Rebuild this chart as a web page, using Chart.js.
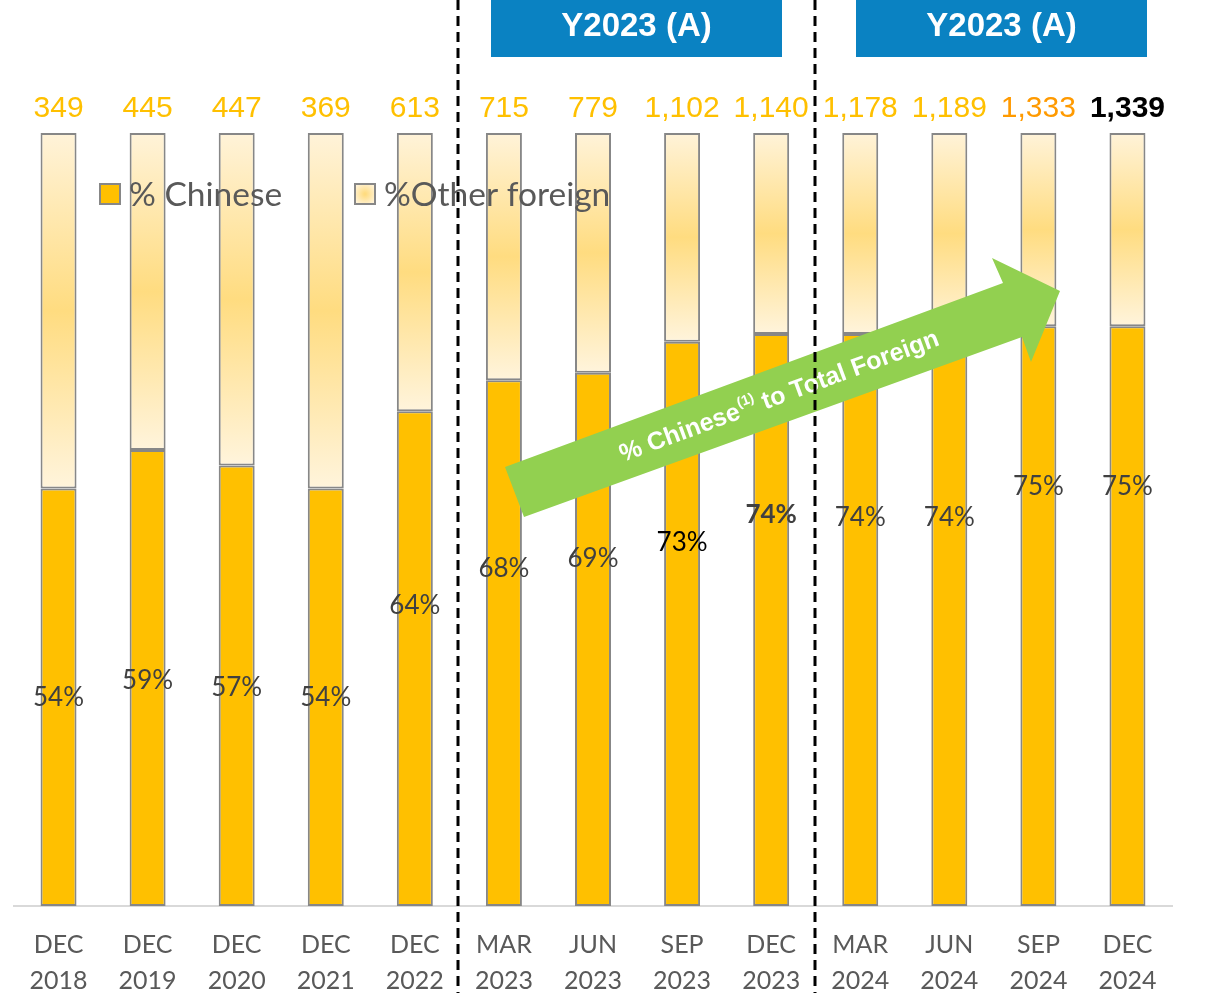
<!DOCTYPE html>
<html>
<head>
<meta charset="utf-8">
<title>% Chinese to Total Foreign</title>
<script src="https://cdn.jsdelivr.net/npm/chart.js@4.4.0/dist/chart.umd.min.js"></script>
<style>
  html, body { margin: 0; padding: 0; background: #fff; }
  #wrap { width: 1206px; height: 993px; }
</style>
</head>
<body>
<div id="wrap"><canvas id="chart" width="1206" height="993"></canvas></div>
<script>
// datos del gráfico
var months = ['DEC', 'DEC', 'DEC', 'DEC', 'DEC', 'MAR', 'JUN', 'SEP', 'DEC', 'MAR', 'JUN', 'SEP', 'DEC'];
var years = ['2018', '2019', '2020', '2021', '2022', '2023', '2023', '2023', '2023', '2024', '2024', '2024', '2024'];
var chinesePct = [54, 59, 57, 54, 64, 68, 69, 73, 74, 74, 74, 75, 75];
var otherPct = [46, 41, 43, 46, 36, 32, 31, 27, 26, 26, 26, 25, 25];
var totals = [349, 445, 447, 369, 613, 715, 779, 1102, 1140, 1178, 1189, 1333, 1339];
var headers = ['Y2023 (A)', 'Y2023 (A)'];
var seriesNames = ['% Chinese', '%Other foreign'];

// where the % label sits (value on the y scale) and how it looks
var pctLabelAt = [27, 29.2, 28.3, 27, 38.8, 43.7, 45, 47, 50.6, 50.2, 50.2, 54.2, 54.2];
var pctLabelStyle = ['n', 'n', 'n', 'n', 'n', 'n', 'n', 'dark', 'bold', 'n', 'n', 'n', 'n'];
var totalStyle = ['n', 'n', 'n', 'n', 'n', 'n', 'n', 'n', 'n', 'n', 'n', 'orange', 'bold'];

var GOLD = '#FFC000';
var BORDER = '#878787';

function otherFill(ctx, top, bottom) {
    var g = ctx.createLinearGradient(0, top, 0, bottom);
    g.addColorStop(0, '#FFF3D9');
    g.addColorStop(0.5, '#FFDC80');
    g.addColorStop(1, '#FFF4DC');
    return g;
}

var overlay = {
    id: 'overlay',
    afterDraw: function (chart) {
        var ctx = chart.ctx;
        var x = chart.scales.x, y = chart.scales.y;
        ctx.save();

        // leyenda
        ctx.lineWidth = 2;
        ctx.strokeStyle = BORDER;
        ctx.fillStyle = GOLD;
        ctx.fillRect(100, 184, 20, 20);
        ctx.strokeRect(100, 184, 20, 20);
        var rg = ctx.createRadialGradient(365, 194, 1, 365, 194, 12);
        rg.addColorStop(0, '#FFDC80');
        rg.addColorStop(1, '#FFF3D9');
        ctx.fillStyle = rg;
        ctx.fillRect(355, 184, 20, 20);
        ctx.strokeRect(355, 184, 20, 20);
        ctx.fillStyle = '#595959';
        ctx.font = '33.5px Lato';
        ctx.textBaseline = 'middle';
        ctx.textAlign = 'left';
        ctx.fillText(seriesNames[0], 129, 195);
        ctx.fillText(seriesNames[1], 384, 195);

        // flecha verde
        ctx.fillStyle = '#92D050';
        ctx.beginPath();
        ctx.moveTo(505, 467);
        ctx.lineTo(1003, 283);
        ctx.lineTo(992, 258);
        ctx.lineTo(1060, 291);
        ctx.lineTo(1031, 362);
        ctx.lineTo(1022, 337);
        ctx.lineTo(524, 517);
        ctx.closePath();
        ctx.fill();

        ctx.save();
        ctx.translate(779, 397);
        ctx.rotate(Math.atan2(-184, 498));
        ctx.fillStyle = '#fff';
        ctx.textBaseline = 'middle';
        ctx.textAlign = 'left';
        var p1 = '% Chinese', sup = '(1)', p2 = ' to Total Foreign';
        ctx.font = 'bold 25px "Liberation Sans"';
        var w1 = ctx.measureText(p1).width, w3 = ctx.measureText(p2).width;
        ctx.font = 'bold 14px "Liberation Sans"';
        var w2 = ctx.measureText(sup).width;
        var sx = -(w1 + w2 + w3) / 2;
        ctx.font = 'bold 25px "Liberation Sans"';
        ctx.fillText(p1, sx, 0);
        ctx.font = 'bold 14px "Liberation Sans"';
        ctx.fillText(sup, sx + w1 + 1, -8);
        ctx.font = 'bold 25px "Liberation Sans"';
        ctx.fillText(p2, sx + w1 + w2 + 1, 0);
        ctx.restore();

        // totales arriba de cada barra
        ctx.textAlign = 'center';
        ctx.textBaseline = 'middle';
        totals.forEach(function (t, i) {
            var cx = x.getPixelForValue(i);
            if (totalStyle[i] === 'bold') {
                ctx.font = 'bold 30px "Liberation Sans"';
                ctx.fillStyle = '#000';
            } else {
                ctx.font = '30px "Liberation Sans"';
                ctx.fillStyle = totalStyle[i] === 'orange' ? '#FF9A00' : GOLD;
            }
            ctx.fillText(t.toLocaleString('en-US'), cx, 109);
        });

        // porcentajes
        chinesePct.forEach(function (v, i) {
            var cx = x.getPixelForValue(i);
            var cy = y.getPixelForValue(pctLabelAt[i]);
            var s = pctLabelStyle[i];
            ctx.font = (s === 'bold' ? 'bold ' : '') + '26px Lato';
            ctx.fillStyle = s === 'dark' ? '#000' : '#404040';
            ctx.fillText(v + '%', cx, cy);
        });

        // cajas de encabezado
        var boxes = [491, 856];
        boxes.forEach(function (bx, i) {
            ctx.fillStyle = '#0A82C2';
            ctx.fillRect(bx, 0, 291, 57);
            ctx.fillStyle = '#fff';
            ctx.font = 'bold 33px "Liberation Sans"';
            ctx.fillText(headers[i], bx + 145.5, 27);
        });

        // líneas punteadas entre periodos
        ctx.strokeStyle = '#000';
        ctx.lineWidth = 3;
        ctx.setLineDash([10, 6]);
        [4, 8].forEach(function (i) {
            var dx = Math.round((x.getPixelForValue(i) + x.getPixelForValue(i + 1)) / 2) - 1;
            ctx.beginPath();
            ctx.moveTo(dx, 0);
            ctx.lineTo(dx, 993);
            ctx.stroke();
        });
        ctx.restore();
    }
};

new Chart(document.getElementById('chart'), {
    type: 'bar',
    data: {
        labels: months.map(function (m, i) { return [m, years[i]]; }),
        datasets: [
            {
                label: seriesNames[0],
                data: chinesePct,
                backgroundColor: GOLD,
                borderColor: BORDER,
                borderWidth: 2,
                borderSkipped: false
            },
            {
                label: seriesNames[1],
                data: otherPct,
                backgroundColor: function (c) {
                    var chart = c.chart;
                    if (!chart.chartArea || !chart.scales.y) return '#FFE9AE';
                    var ys = chart.scales.y;
                    return otherFill(chart.ctx, ys.getPixelForValue(100), ys.getPixelForValue(chinesePct[c.dataIndex]));
                },
                borderColor: BORDER,
                borderWidth: 2,
                borderSkipped: false
            }
        ]
    },
    options: {
        responsive: false,
        animation: false,
        events: [],
        layout: { padding: { top: 133, left: 14, right: 34, bottom: 0 } },
        datasets: { bar: { barPercentage: 0.404, categoryPercentage: 1 } },
        plugins: { legend: { display: false }, tooltip: { enabled: false } },
        scales: {
            x: {
                stacked: true,
                grid: { display: false },
                border: { display: true, color: '#D9D9D9', width: 2 },
                ticks: {
                    color: '#595959',
                    font: { family: 'Lato', size: 25, lineHeight: 1.44 },
                    padding: 13,
                    maxRotation: 0,
                    autoSkip: false
                },
                afterFit: function (s) { s.height = 87; }
            },
            y: {
                stacked: true,
                display: false,
                min: 0,
                max: 100
            }
        }
    },
    plugins: [overlay]
});
</script>
</body>
</html>
